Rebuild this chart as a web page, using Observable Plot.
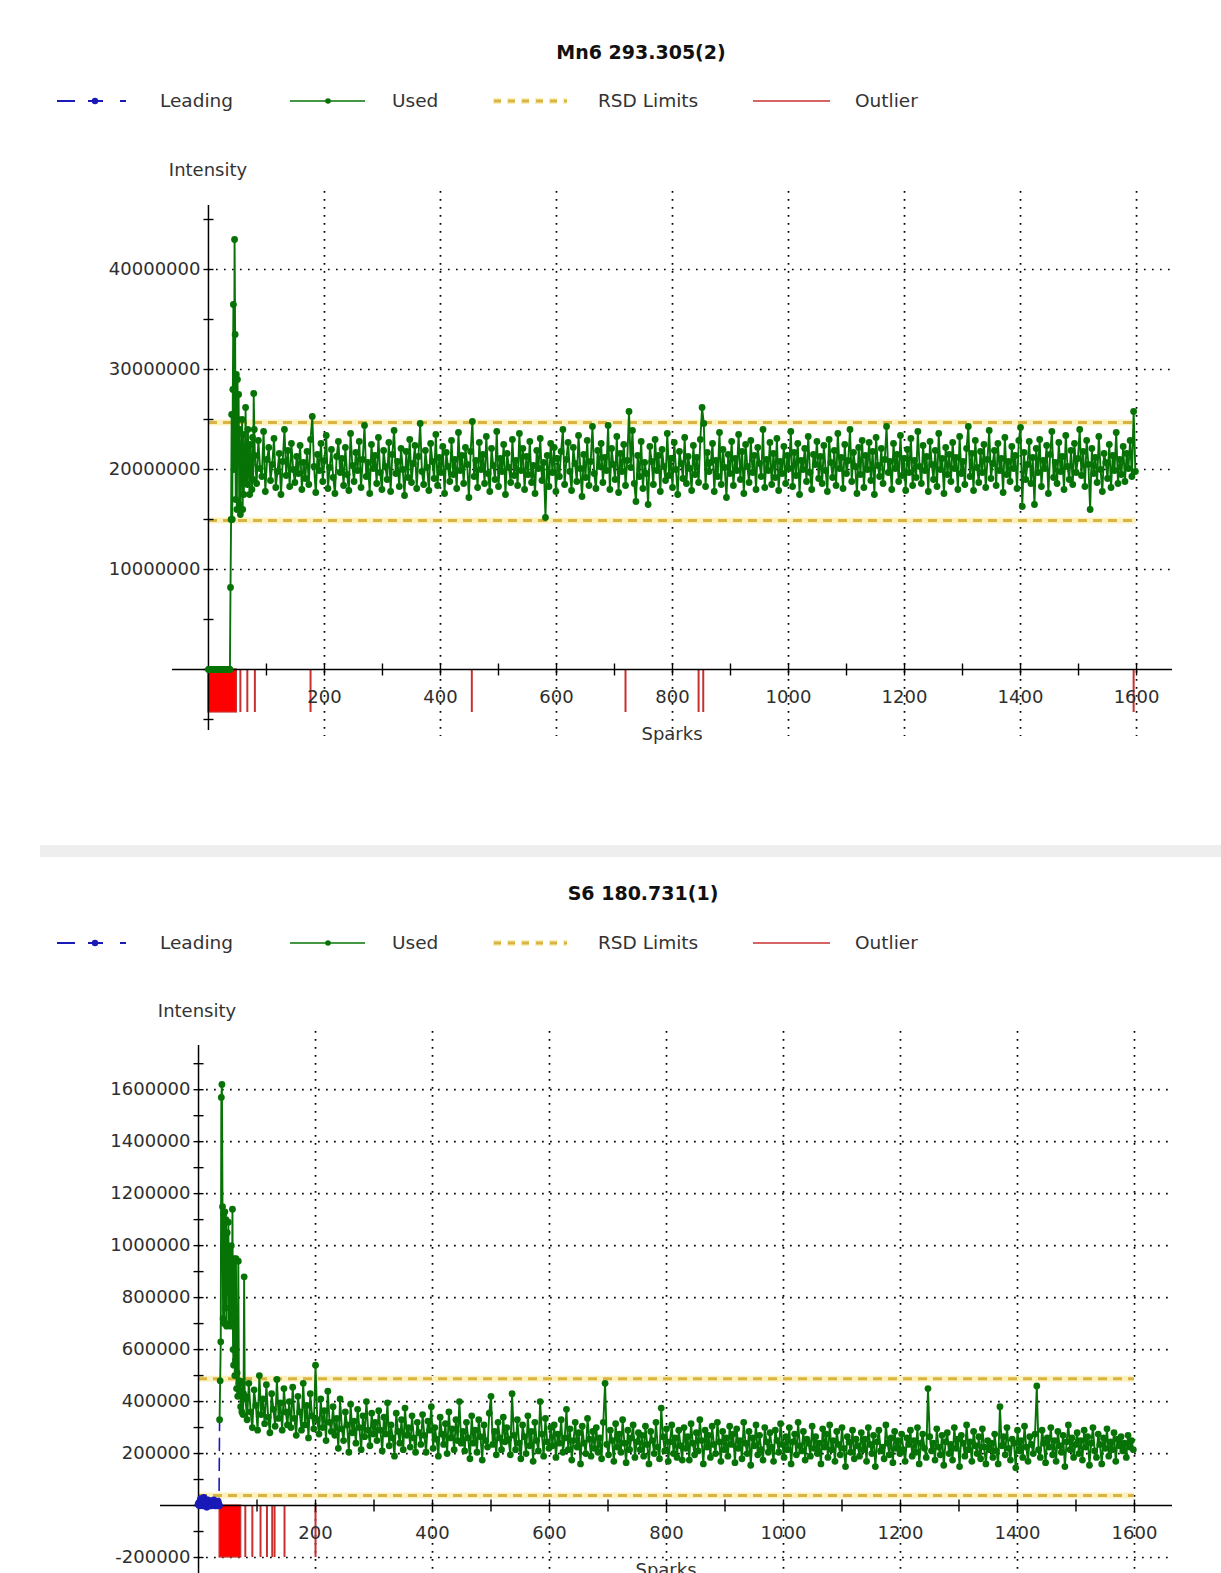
<!DOCTYPE html>
<html><head><meta charset="utf-8">
<script src="https://cdn.jsdelivr.net/npm/d3@7"></script>
<script src="https://cdn.jsdelivr.net/npm/@observablehq/plot@0.6"></script>
<style>
html,body{margin:0;padding:0;background:#fff;overflow:hidden;width:1221px;height:1573px;}
body{position:relative;font-family:"DejaVu Sans",sans-serif;color:#333;}
.abs{position:absolute;white-space:nowrap;line-height:1;}
.title{font-weight:bold;font-size:19px;color:#111;transform:translate(-50%,-50%);}
.leg{font-size:18.5px;color:#333;transform:translateY(-50%);}
.lab{font-size:18px;color:#333;transform:translate(-50%,-50%);}
.sep{position:absolute;left:40px;width:1181px;top:845px;height:12px;background:#eeeeee;}
svg.legsw{position:absolute;overflow:visible;}
</style></head><body>
<script>
// ---------------- shared ----------------
const legendLabels = ["Leading", "Used", "RSD Limits", "Outlier"];
const sparkTicks = [200, 400, 600, 800, 1000, 1200, 1400, 1600];
const sparkMinor = [100, 200, 300, 400, 500, 600, 700, 800, 900, 1000, 1100, 1200, 1300, 1400, 1500, 1600];
const xAxisTitle = "Sparks";
const yAxisTitle = "Intensity";

// ---------------- chart 1: Mn6 293.305(2) ----------------
const mnTitle = "Mn6 293.305(2)";
const mnUnit = 100000;
const mnYTicks = [10000000, 20000000, 30000000, 40000000];
const mnYMinor = [-5000000, 0, 5000000, 10000000, 15000000, 20000000, 25000000, 30000000, 35000000, 40000000, 45000000];
const mnXDomain = [-62, 1662];
const mnYDomain = [-6100000, 46400000];
const mnHeadStart = 0;   // sparks 0..79, one per spark
const mnUsedHead = [
  0,0,0,0,0,0,0,0,0,0,
  0,0,0,0,0,0,0,0,0,0,
  0,0,0,0,0,0,0,0,0,0,
  0,0,0,0,0,0,0,0,
  82,150,255,150,280,365,200,430,335,170,
  295,160,290,250,275,165,240,155,225,205,
  250,160,235,175,218,190,262,200,220,185,
  240,195,212,175,225,198,205,180,232,190,
  276,240
];
const mnTailStart = 80, mnTailStep = 3;   // sparks 80..1598, every 3rd
const mnUsedTail = [
  214,186,229,201,193,238,178,210,222,189,205,231,182,198,216,175,208,240,194,219,183,226,200,187,213,
  196,224,180,207,191,218,185,230,253,203,177,215,199,226,188,209,234,181,202,220,192,176,213,228,197,
  211,184,222,195,179,236,204,188,217,199,228,182,210,244,193,207,176,225,201,214,186,232,197,180,219,
  203,190,227,178,215,239,196,208,183,221,200,174,218,192,230,187,206,224,181,213,246,198,185,219,202,
  179,226,208,191,235,184,212,197,223,176,217,203,188,229,195,210,181,237,199,214,186,222,205,172,218,
  248,193,209,182,227,200,215,186,233,196,178,221,204,190,238,183,211,198,225,175,216,202,187,230,194,
  209,184,236,199,221,180,213,195,228,187,204,176,219,201,231,189,207,152,214,183,226,197,222,178,211,
  193,218,240,185,210,227,198,179,222,206,188,234,201,173,215,192,229,184,208,243,196,181,219,203,226,
  187,212,199,244,180,221,205,190,233,177,216,198,225,184,209,258,202,239,186,168,214,193,228,181,207,
  196,165,223,208,185,230,199,214,178,220,203,189,236,194,211,182,227,200,175,218,206,191,232,186,213,
  201,179,224,195,212,187,230,262,246,183,217,198,207,226,178,209,193,237,185,220,202,172,215,196,228,
  184,211,199,235,190,218,176,225,203,187,229,197,214,180,222,206,193,240,182,210,199,227,185,216,192,
  231,179,208,196,223,186,214,201,238,183,217,194,226,175,209,200,221,188,233,197,180,215,205,228,191,
  213,186,224,199,178,230,207,192,219,184,236,201,212,181,225,196,209,240,188,217,203,176,222,195,229,
  182,214,200,227,189,218,175,232,204,193,221,186,210,243,197,208,180,226,201,215,188,234,194,211,179,
  220,197,231,184,209,192,238,203,186,224,199,213,178,228,205,190,219,183,236,200,211,176,222,195,215,
  188,227,201,212,180,233,196,208,185,221,243,193,216,179,229,202,187,218,197,225,182,210,239,191,206,
  219,184,226,199,211,177,232,195,208,188,223,201,214,181,229,242,163,217,190,205,228,186,212,165,221,
  197,230,183,209,201,224,176,215,238,192,207,186,227,198,213,180,234,203,190,219,185,226,197,211,240,
  194,218,183,229,205,160,221,196,212,187,233,200,178,216,207,191,225,182,214,199,237,186,210,195,223,
  188,216,201,229,193,258,198
];
const mnLeading = [];
const mnRsd = [14900000, 24700000];
const mnRsdSpan = [0, 1600];
const mnOutlierRange = [0, 49];
const mnOutliers = [55, 67, 80, 176, 454, 719, 845, 853, 1595];
const mnOutlierDepth = -4300000;

// ---------------- chart 2: S6 180.731(1) ----------------
const sTitle = "S6 180.731(1)";
const sUnit = 1000;
const sYTicks = [-200000, 200000, 400000, 600000, 800000, 1000000, 1200000, 1400000, 1600000];
const sYMinor = [-300000, -200000, -100000, 0, 100000, 200000, 300000, 400000, 500000, 600000, 700000, 800000, 900000, 1000000, 1100000, 1200000, 1300000, 1400000, 1500000, 1600000, 1700000];
const sXDomain = [-65, 1665];
const sYDomain = [-300000, 1770000];
const sLeadingStart = 0;  // sparks 0..35
const sLeading = [5,10,0,15,25,10,5,0,20,30,15,5,10,0,-5,10,20,15,5,0,10,5,0,15,10,5,20,10,0,5,10,0,5,15,5,0];
const sHeadStart = 36;   // sparks 36..79, one per spark
const sUsedHead = [
  330,480,630,1570,1620,1150,
  720,1120,700,1130,760,1100,690,1050,820,1090,700,980,860,690,1000,720,
  1140,600,540,950,500,560,950,450,510,420,940,470,430,480,380,440,360,470,350,430,880,410
];
const sTailStart = 80, sTailStep = 3;  // sparks 80..1598, every 3rd
const sUsedTail = [
  420,330,470,360,300,445,385,290,500,350,410,315,465,340,280,430,370,305,485,335,395,290,450,360,310,
  400,300,455,335,270,420,360,290,470,310,385,260,430,345,295,540,330,275,410,300,365,250,440,320,285,
  380,270,335,220,410,295,250,360,310,205,390,280,325,240,370,300,215,345,265,400,290,230,355,275,320,
  250,365,290,210,340,275,395,230,310,260,190,355,285,240,330,215,375,270,300,225,345,260,205,320,280,
  235,350,270,205,325,290,380,220,300,255,190,340,275,235,315,200,360,260,295,215,330,250,400,240,285,
  210,320,260,180,345,240,290,205,330,265,175,310,250,225,355,420,235,285,195,320,260,215,340,245,300,
  255,195,430,270,215,330,240,180,310,265,200,345,230,285,170,320,250,210,400,275,190,335,245,220,300,
  230,310,185,275,240,330,205,260,370,215,295,175,250,320,225,280,160,305,240,200,335,255,190,285,220,
  300,205,260,180,320,470,235,195,290,250,170,315,225,275,205,330,240,165,290,215,260,310,185,245,280,
  215,270,190,305,235,160,285,250,200,320,225,180,375,265,210,295,170,245,310,200,260,185,290,230,175,
  300,220,265,175,315,240,195,280,210,330,250,160,290,225,270,185,305,235,200,320,245,170,285,215,260,
  190,305,235,275,165,295,220,250,180,320,240,200,285,155,260,230,310,195,270,215,175,300,245,205,280,
  225,170,290,250,205,315,235,185,265,215,300,160,245,275,195,320,230,210,285,175,255,240,190,305,220,
  265,200,240,160,295,225,275,185,310,215,250,170,285,235,195,300,220,150,265,245,205,290,180,255,230,
  190,280,215,255,170,300,235,200,270,150,245,290,210,225,180,310,240,195,260,165,285,220,250,200,275,
  215,170,260,235,290,190,250,205,300,160,240,275,220,185,450,265,210,240,175,295,225,195,270,155,245,
  280,200,235,175,300,220,255,150,270,240,190,310,215,245,170,285,230,200,265,180,295,225,160,250,215,
  240,185,275,210,160,380,230,265,195,300,220,175,255,240,145,290,210,250,185,305,225,170,265,235,200,
  275,460,215,185,290,240,165,260,225,300,195,250,170,285,230,205,270,150,245,310,215,260,185,235,280,
  200,250,175,290,225,265,155,240,300,210,185,275,235,160,260,220,295,190,245,215,280,170,255,230,265,
  210,240,185,270,225,250,215
];
const sRsd = [38500, 488000];
const sRsdSpan = [0, 1600];
const sOutlierRange = [36, 73];
const sOutliers = [80, 92, 106, 117, 126, 130, 147, 200];
const sOutlierDepth = -200000;

// ---------------- styles ----------------
const GREEN = "#077307", BLUE = "#1a1ab8", RSDC = "#d8b444", RED = "#ff0000", REDL = "#c83030";

const hTick = {draw(ctx){ ctx.moveTo(-5,0); ctx.lineTo(5,0); }};
const vTick = {draw(ctx){ ctx.moveTo(0,-6); ctx.lineTo(0,6); }};

function el(tag, cls, text, x, y) {
  const d = document.createElement(tag);
  d.className = "abs " + cls;
  if (text != null) d.textContent = text;
  d.style.left = x + "px"; d.style.top = y + "px";
  document.body.appendChild(d);
  return d;
}

function legend(y) {
  const ns = "http://www.w3.org/2000/svg";
  const svg = document.createElementNS(ns, "svg");
  svg.setAttribute("class", "legsw");
  svg.setAttribute("width", 900); svg.setAttribute("height", 20);
  svg.style.left = "0px"; svg.style.top = (y - 10) + "px";
  svg.innerHTML = `
    <g stroke="${BLUE}" stroke-width="2"><line x1="57" x2="75" y1="10" y2="10"/><line x1="88" x2="103" y1="10" y2="10"/><line x1="120" x2="126" y1="10" y2="10"/></g>
    <circle cx="95" cy="10" r="3.2" fill="${BLUE}"/>
    <line x1="290" x2="365" y1="10" y2="10" stroke="${GREEN}" stroke-width="1.6"/>
    <circle cx="328" cy="10" r="2.8" fill="${GREEN}"/>
    <line x1="493" x2="567" y1="10" y2="10" stroke="#fbefb8" stroke-width="6" stroke-dasharray="8,6"/>
    <line x1="494" x2="567" y1="10" y2="10" stroke="${RSDC}" stroke-width="2.8" stroke-dasharray="7,7"/>
    <line x1="753" x2="830" y1="10" y2="10" stroke="${REDL}" stroke-width="1.6"/>`;
  document.body.appendChild(svg);
  const xs = [160, 392, 598, 855];
  legendLabels.forEach((t, i) => el("div", "leg", t, xs[i], y));
}

function chart(cfg) {
  const used = [];
  cfg.usedHead.forEach((v, i) => used.push({s: cfg.headStart + i, v: v * cfg.unit}));
  cfg.usedTail.forEach((v, i) => used.push({s: cfg.tailStart + i * cfg.tailStep, v: v * cfg.unit}));
  const lead = cfg.leading.map((v, i) => ({s: cfg.leadingStart + i, v: v * cfg.unit}));
  const leadLine = lead.length ? lead.concat([used[0]]) : [];
  const dotted = {stroke: "#000", strokeWidth: 1.7, strokeDasharray: "1.7,6.3"};
  const marks = [
    // grid
    Plot.ruleX(cfg.xTicks, {...dotted, insetTop: -14, insetBottom: -6}),
    Plot.ruleY(cfg.yTicks, {...dotted, x1: 0, x2: cfg.xDomain[1]}),
    // RSD limits
    Plot.ruleY(cfg.rsd, {x1: cfg.rsdSpan[0], x2: cfg.rsdSpan[1], stroke: "#fdf1bf", strokeWidth: 6}),
    Plot.ruleY(cfg.rsd, {x1: cfg.rsdSpan[0], x2: cfg.rsdSpan[1], stroke: RSDC, strokeWidth: 3, strokeDasharray: "9,6"}),
    // outliers
    Plot.rect([cfg.outlierRange], {x1: d => d[0], x2: d => d[1], y1: 0, y2: cfg.outlierDepth, fill: RED, stroke: REDL, strokeWidth: 1.2}),
    Plot.ruleX(cfg.outliers, {y1: 0, y2: cfg.outlierDepth, stroke: REDL, strokeWidth: 2}),
    // axes lines
    Plot.ruleX([0], {stroke: "#000", strokeWidth: 1.5}),
    Plot.ruleY([0], {stroke: "#000", strokeWidth: 1.5}),
    Plot.dot(cfg.yMinor, {x: () => 0, y: d => d, symbol: hTick, stroke: "#000", strokeWidth: 1.4, fill: "none"}),
    Plot.dot(cfg.xMinor, {x: d => d, y: () => 0, symbol: vTick, stroke: "#000", strokeWidth: 1.4, fill: "none"}),
    Plot.text(cfg.yTicks, {x: () => 0, y: d => d, text: d => String(d), textAnchor: "end", dx: -8, fill: "#2e2e2e", fontSize: 18}),
    Plot.text(cfg.xTicks, {x: d => d, y: () => 0, text: d => String(d), dy: 28, fill: "#2e2e2e", fontSize: 18}),
    // leading
    Plot.line(leadLine, {x: "s", y: "v", stroke: BLUE, strokeWidth: 1.6, strokeDasharray: "12,8"}),
    Plot.dot(lead, {x: "s", y: "v", r: 3.8, fill: BLUE}),
    // used
    Plot.line(used, {x: "s", y: "v", stroke: GREEN, strokeWidth: 1.9}),
    Plot.dot(used, {x: "s", y: "v", r: 3.4, fill: GREEN})
  ];
  const svg = Plot.plot({
    width: 1221, height: cfg.height,
    marginLeft: cfg.marginLeft, marginRight: 49, marginTop: 20, marginBottom: cfg.marginBottom,
    x: {domain: cfg.xDomain, axis: null},
    y: {domain: cfg.yDomain, axis: null},
    style: {fontFamily: "DejaVu Sans", fontSize: "18px", background: "transparent", overflow: "visible"},
    marks
  });
  svg.style.position = "absolute";
  svg.style.left = "0px";
  svg.style.top = cfg.top + "px";
  document.body.appendChild(svg);
}

// ---- chart 1 layout ----
el("div", "title", mnTitle, 641, 52);
legend(101);
el("div", "lab", yAxisTitle, 208, 170);
chart({
  top: 185, height: 570, marginLeft: 172, marginBottom: 25,
  xDomain: mnXDomain, yDomain: mnYDomain, unit: mnUnit,
  xTicks: sparkTicks, xMinor: sparkMinor, yTicks: mnYTicks, yMinor: mnYMinor,
  headStart: mnHeadStart, usedHead: mnUsedHead, tailStart: mnTailStart, tailStep: mnTailStep, usedTail: mnUsedTail,
  leadingStart: 0, leading: mnLeading,
  rsd: mnRsd, rsdSpan: mnRsdSpan, outlierRange: mnOutlierRange, outliers: mnOutliers, outlierDepth: mnOutlierDepth
});
el("div", "lab", xAxisTitle, 672, 734);

// separator
const sep = document.createElement("div"); sep.className = "sep"; document.body.appendChild(sep);

// ---- chart 2 layout ----
el("div", "title", sTitle, 643, 893);
legend(943);
el("div", "lab", yAxisTitle, 197, 1011);
chart({
  top: 1025, height: 620, marginLeft: 160, marginBottom: 62,
  xDomain: sXDomain, yDomain: sYDomain, unit: sUnit,
  xTicks: sparkTicks, xMinor: sparkMinor, yTicks: sYTicks, yMinor: sYMinor,
  headStart: sHeadStart, usedHead: sUsedHead, tailStart: sTailStart, tailStep: sTailStep, usedTail: sUsedTail,
  leadingStart: sLeadingStart, leading: sLeading,
  rsd: sRsd, rsdSpan: sRsdSpan, outlierRange: sOutlierRange, outliers: sOutliers, outlierDepth: sOutlierDepth
});
el("div", "lab", xAxisTitle, 666, 1570);
</script>
</body></html>
